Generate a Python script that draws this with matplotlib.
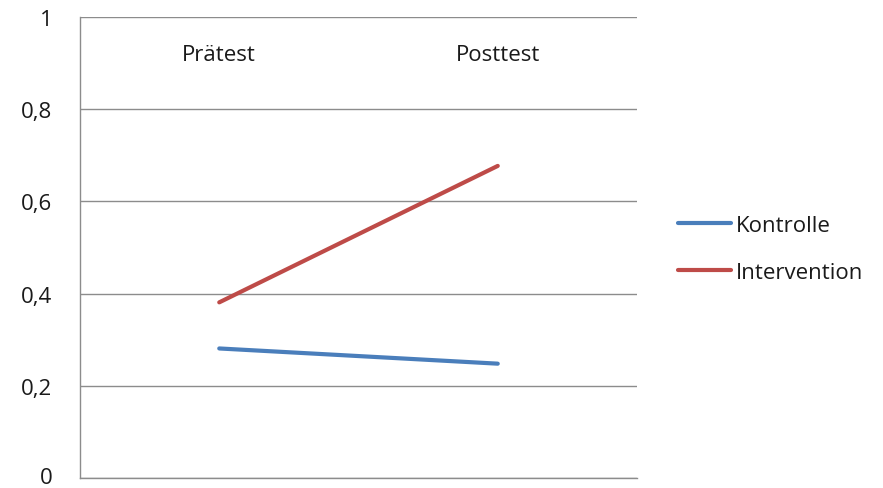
import matplotlib
matplotlib.use("Agg")
import matplotlib.pyplot as plt
from matplotlib.ticker import FuncFormatter
from matplotlib.transforms import ScaledTranslation

categories = ["Prätest", "Posttest"]
kontrolle = [0.281, 0.248]
intervention = [0.381, 0.677]
yticks = [0, 0.2, 0.4, 0.6, 0.8, 1.0]

plt.rcParams['font.family'] = ['Open Sans', 'DejaVu Sans']
FS = 16

fig = plt.figure(figsize=(8.83, 4.89), dpi=100)
ax = fig.add_axes([80/883, 1-479/489, 557/883, 461/489])

x = list(range(len(categories)))
ax.plot(x, kontrolle, color="#4A7EBB", lw=3, solid_capstyle="round", label="Kontrolle")
ax.plot(x, intervention, color="#BE4B48", lw=3, solid_capstyle="round", label="Intervention")

ax.set_xlim(-0.5, len(categories) - 0.5)
ax.set_ylim(0, 1)
ax.set_yticks(yticks)
ax.yaxis.set_major_formatter(FuncFormatter(lambda v, p: ("%g" % round(v, 1)).replace(".", ",")))
ax.grid(axis="y", color="#8c8c8c", lw=1)
ax.set_axisbelow(True)

ax.set_xticks(x)
ax.set_xticklabels(categories)
ax.tick_params(axis="x", which="both", top=False, bottom=False, labelbottom=False,
               labeltop=True, pad=-38, labelsize=FS, colors="#1a1a1a")
ax.tick_params(axis="y", length=0, pad=20, labelsize=FS, colors="#1a1a1a")
for lbl in ax.get_yticklabels():
    lbl.set_horizontalalignment("right")

# nudge the bottom "0" label up a few pixels so it stays inside the figure
t0 = ax.yaxis.get_major_ticks()[0].label1
t0.set_transform(t0.get_transform() + ScaledTranslation(0, 3/100, fig.dpi_scale_trans))

for s in ["top", "right"]:
    ax.spines[s].set_visible(False)
for s in ["left", "bottom"]:
    ax.spines[s].set_color("#8c8c8c")
    ax.spines[s].set_linewidth(1)

leg = ax.legend(loc="center left", bbox_to_anchor=(1.038, 0.497), frameon=False,
                fontsize=FS, handlelength=2.4, handletextpad=0.18, labelspacing=1.2)
for t in leg.get_texts():
    t.set_color("#1a1a1a")

fig.savefig("out.png", dpi=100)
